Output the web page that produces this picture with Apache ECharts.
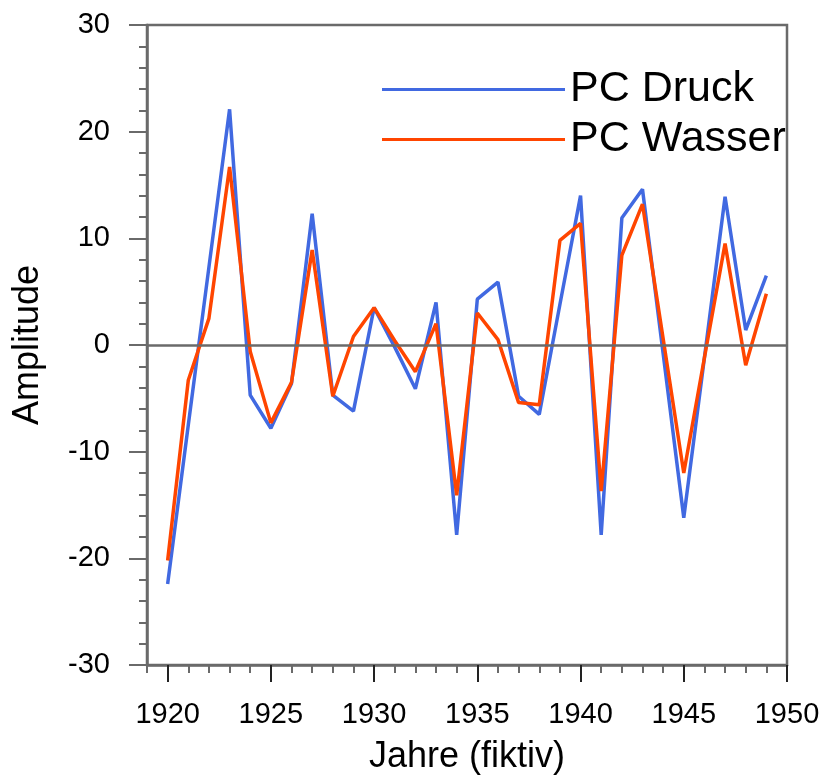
<!DOCTYPE html>
<html>
<head>
<meta charset="utf-8">
<title>PC Druck / PC Wasser</title>
<script src="https://cdn.jsdelivr.net/npm/echarts@6/dist/echarts.min.js"></script>
<style>
  html, body { margin: 0; padding: 0; background: #ffffff; }
  #chart { width: 820px; height: 780px; }
</style>
</head>
<body>
<div id="chart"></div>
<script>
// Years on the x axis (fictional)
const years = [1920, 1921, 1922, 1923, 1924, 1925, 1926, 1927, 1928, 1929,
               1930, 1931, 1932, 1933, 1934, 1935, 1936, 1937, 1938, 1939,
               1940, 1941, 1942, 1943, 1944, 1945, 1946, 1947, 1948, 1949];

// Principal component amplitudes
const pcDruck  = [-22.4, -7.5, 7.3, 22.1, -4.7, -7.8, -3.6, 12.3, -4.7, -6.2,
                   3.5, -0.2, -4.1, 4.0, -17.8, 4.3, 5.9, -4.8, -6.5, 3.8,
                  14.0, -17.8, 11.9, 14.6, -0.8, -16.2, -1.2, 13.9, 1.4, 6.5];
const pcWasser = [-20.2, -3.3, 2.5, 16.7, -0.6, -7.3, -3.5, 8.9, -4.8, 0.8,
                   3.5, 0.4, -2.5, 2.0, -14.1, 3.0, 0.5, -5.4, -5.6, 9.8,
                  11.4, -13.7, 8.4, 13.2, 0.6, -12.0, -1.2, 9.5, -1.9, 4.8];

// Labelled ticks
const xTickYears = [1920, 1925, 1930, 1935, 1940, 1945, 1950];
const seriesNames = ['PC Druck', 'PC Wasser'];

const FONT = '"Liberation Sans", Arial, Helvetica, sans-serif';
const AXIS_GRAY = '#6a6a6a';

const chart = echarts.init(document.getElementById('chart'), null, { renderer: 'canvas' });

const pairs = (ys) => years.map((y, i) => [y, ys[i]]);

chart.setOption({
  animation: false,
  backgroundColor: '#ffffff',
  grid: {
    left: 147, right: 33, top: 25, bottom: 115,
    outerBoundsMode: 'none',
    containLabel: false,
    show: true, borderColor: AXIS_GRAY, borderWidth: 2.5, backgroundColor: 'transparent'
  },
  legend: {
    data: seriesNames,
    orient: 'vertical',
    left: 382, top: 68,
    padding: 0,
    itemWidth: 183, itemHeight: 3, itemGap: 7,
    icon: 'rect',
    textStyle: { fontFamily: FONT, fontSize: 43, color: '#000' }
  },
  xAxis: [
    {
      // minor yearly ticks and the axis line
      type: 'value', min: 1919, max: 1950, interval: 1,
      axisLine: { show: true, onZero: false, lineStyle: { color: AXIS_GRAY, width: 2.5 } },
      axisTick: { show: true, length: 8, lineStyle: { color: AXIS_GRAY, width: 2 } },
      axisLabel: { show: false },
      splitLine: { show: false }
    },
    {
      // labelled major ticks
      type: 'value', min: 1919, max: 1950, position: 'bottom',
      axisLine: { show: false, onZero: false },
      axisTick: { show: true, length: 17, customValues: xTickYears,
                  lineStyle: { color: '#222', width: 2 } },
      axisLabel: { show: true, customValues: xTickYears, margin: 35,
                   formatter: (v) => String(v),
                   fontFamily: FONT, fontSize: 29, color: '#000' },
      splitLine: { show: false },
      name: 'Jahre (fiktiv)', nameLocation: 'middle', nameGap: 74,
      nameTextStyle: { fontFamily: FONT, fontSize: 36, color: '#000' }
    }
  ],
  yAxis: {
    type: 'value', min: -30, max: 30, interval: 10,
    axisLine: { show: true, onZero: false, lineStyle: { color: AXIS_GRAY, width: 2.5 } },
    axisTick: { show: true, length: 18, lineStyle: { color: AXIS_GRAY, width: 2 } },
    minorTick: { show: true, splitNumber: 5, length: 8, lineStyle: { color: AXIS_GRAY, width: 2 } },
    axisLabel: { margin: 37, fontFamily: FONT, fontSize: 29, color: '#000' },
    splitLine: { show: false },
    minorSplitLine: { show: false },
    name: 'Amplitude', nameLocation: 'middle', nameGap: 101,
    nameTextStyle: { fontFamily: FONT, fontSize: 36, color: '#000' }
  },
  series: [
    {
      name: seriesNames[0], type: 'line', xAxisIndex: 0,
      data: pairs(pcDruck), symbol: 'none',
      lineStyle: { color: '#4169e1', width: 3.5 }, itemStyle: { color: '#4169e1' },
      markLine: {
        silent: true, symbol: 'none', label: { show: false },
        lineStyle: { color: AXIS_GRAY, width: 2.5, type: 'solid' },
        data: [{ yAxis: 0 }]
      }
    },
    {
      name: seriesNames[1], type: 'line', xAxisIndex: 0,
      data: pairs(pcWasser), symbol: 'none',
      lineStyle: { color: '#ff4500', width: 3.5 }, itemStyle: { color: '#ff4500' }
    }
  ]
});
</script>
</body>
</html>
